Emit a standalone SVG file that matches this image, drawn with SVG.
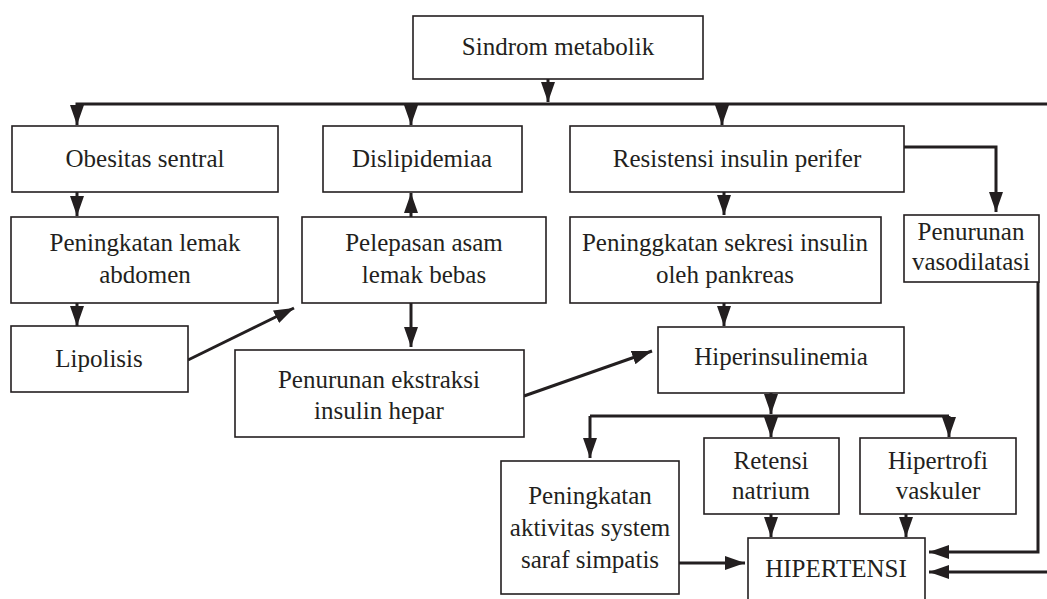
<svg xmlns="http://www.w3.org/2000/svg" width="1047" height="599" viewBox="0 0 1047 599">
<defs>
<style>
.box{fill:#fff;stroke:#231f20;stroke-width:1.6}
.t{font-family:'Liberation Serif','Times New Roman','DejaVu Serif',serif;font-size:25px;fill:#231f20;text-anchor:middle}
.c{fill:none;stroke:#231f20;stroke-width:3;marker-end:url(#ah)}
.n{fill:none;stroke:#231f20;stroke-width:3}
</style>
<marker id="ah" markerUnits="userSpaceOnUse" markerWidth="22" markerHeight="16" refX="20" refY="7" orient="auto">
<path d="M0,0 L20,7 L0,14 z" fill="#231f20"/>
</marker>
</defs>
<rect width="1047" height="599" fill="#fff"/>
<g id="connectors">
<path class="c" d="M548,79 V102"/>
<path class="c" d="M1047,104 H77 V125"/>
<path class="c" d="M411,104 V125"/>
<path class="c" d="M722,104 V125"/>
<path class="c" d="M77,192 V216"/>
<path class="c" d="M77,303 V326"/>
<path class="c" d="M188,360 L294,308"/>
<path class="c" d="M411,217 V193"/>
<path class="c" d="M411,303 V347"/>
<path class="c" d="M524,396 L652,351"/>
<path class="c" d="M724,192 V215"/>
<path class="c" d="M724,303 V326"/>
<path class="c" d="M904,147 H996 V212"/>
<path class="c" d="M771,393 V414"/>
<path class="n" d="M590,416 H949"/>
<path class="c" d="M590,416 V458"/>
<path class="c" d="M771,416 V437"/>
<path class="c" d="M949,416 V437"/>
<path class="c" d="M771,514 V537"/>
<path class="c" d="M906,514 V537"/>
<path class="c" d="M679,563 H745"/>
<path class="c" d="M1038,282 V552 H929"/>
<path class="c" d="M1047,572 H929"/>
</g>
<g font-family="'Liberation Serif', 'Times New Roman', serif">
<g id="n1"><rect class="box" x="413" y="16" width="290" height="63"/><text class="t" x="558" y="55">Sindrom metabolik</text></g>
<g id="n2"><rect class="box" x="12" y="126" width="266" height="66"/><text class="t" x="145" y="167">Obesitas sentral</text></g>
<g id="n3"><rect class="box" x="323" y="126" width="199" height="66"/><text class="t" x="422" y="167">Dislipidemiaa</text></g>
<g id="n4"><rect class="box" x="570" y="126" width="334" height="66"/><text class="t" x="737" y="167">Resistensi insulin perifer</text></g>
<g id="n5"><rect class="box" x="11" y="217" width="267" height="86"/><text class="t" x="145" y="251">Peningkatan lemak</text><text class="t" x="145" y="283">abdomen</text></g>
<g id="n6"><rect class="box" x="302" y="217" width="244" height="86"/><text class="t" x="424" y="251">Pelepasan asam</text><text class="t" x="424" y="283">lemak bebas</text></g>
<g id="n7"><rect class="box" x="570" y="217" width="311" height="86"/><text class="t" x="725" y="251">Peninggkatan sekresi insulin</text><text class="t" x="725" y="283">oleh pankreas</text></g>
<g id="n8"><rect class="box" x="904" y="215" width="135" height="67"/><text class="t" x="971" y="240">Penurunan</text><text class="t" x="971" y="270">vasodilatasi</text></g>
<g id="n9"><rect class="box" x="11" y="326" width="177" height="66"/><text class="t" x="99" y="367">Lipolisis</text></g>
<g id="n10"><rect class="box" x="235" y="350" width="289" height="87"/><text class="t" x="379" y="388">Penurunan ekstraksi</text><text class="t" x="379" y="419">insulin hepar</text></g>
<g id="n11"><rect class="box" x="658" y="327" width="246" height="66"/><text class="t" x="781" y="365">Hiperinsulinemia</text></g>
<g id="n12"><rect class="box" x="501" y="461" width="178" height="133"/><text class="t" x="590" y="504">Peningkatan</text><text class="t" x="590" y="536">aktivitas system</text><text class="t" x="590" y="568">saraf simpatis</text></g>
<g id="n13"><rect class="box" x="704" y="438" width="135" height="76"/><text class="t" x="771" y="469">Retensi</text><text class="t" x="771" y="499">natrium</text></g>
<g id="n14"><rect class="box" x="860" y="438" width="156" height="76"/><text class="t" x="938" y="469">Hipertrofi</text><text class="t" x="938" y="499">vaskuler</text></g>
<g id="n15"><rect class="box" x="748" y="538" width="177" height="62"/><text class="t" x="836" y="577">HIPERTENSI</text></g>
</g>
</svg>
